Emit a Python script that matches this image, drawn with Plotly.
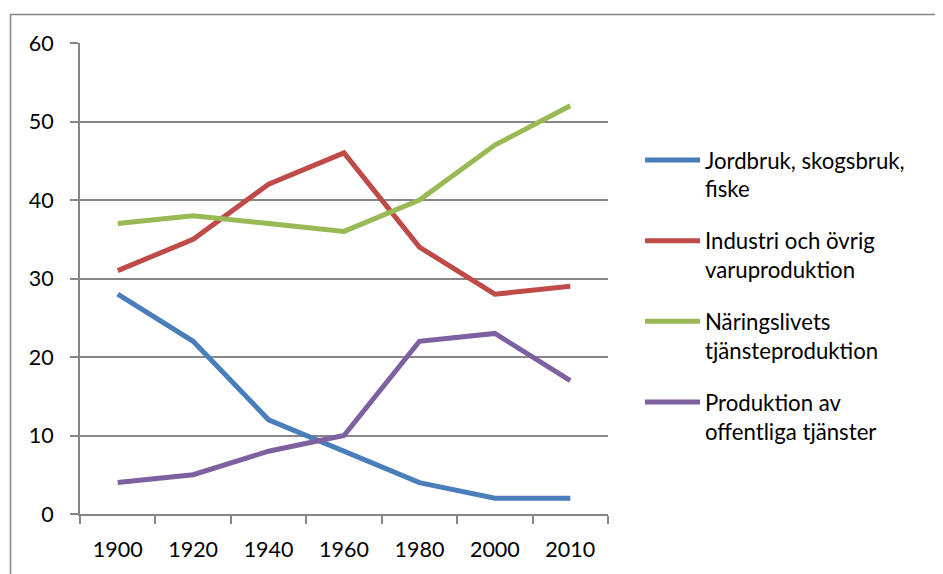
import plotly.graph_objects as go

years = ["1900", "1920", "1940", "1960", "1980", "2000", "2010"]
jordbruk = [28, 22, 12, 8, 4, 2, 2]
industri = [31, 35, 42, 46, 34, 28, 29]
naringsliv = [37, 38, 37, 36, 40, 47, 52]
offentlig = [4, 5, 8, 10, 22, 23, 17]

names = ["Jordbruk, skogsbruk,<br>fiske", "Industri och övrig<br>varuproduktion",
         "Näringslivets<br>tjänsteproduktion", "Produktion av<br>offentliga tjänster"]
colors = ["#4A7EBB", "#BE4B48", "#98B954", "#7D60A0"]
series = [jordbruk, industri, naringsliv, offentlig]

FONT = "Lato"
fig = go.Figure()
for i, (n, c, s) in enumerate(zip(names, colors, series)):
    fig.add_trace(go.Scatter(x=years, y=s, name=n, mode="lines", legendgroup=f"g{i}",
                             line=dict(color=c, width=5)))

OFF = 8  # page body margin
W, H = 943, 574
L, R, T, B = 80 - OFF, 608 - OFF, 43 - OFF, 514 - OFF
fig.update_layout(
    width=W, height=H,
    margin=dict(l=L, r=W - R, t=T, b=H - B, pad=0, autoexpand=False),
    plot_bgcolor="white", paper_bgcolor="white",
    font=dict(family=FONT, size=22, color="#000000"),
    showlegend=True,
    legend=dict(x=(640 - OFF - L) / (R - L), y=(B - (139 - OFF)) / (B - T),
                xanchor="left", yanchor="top",
                valign="top", itemwidth=55, tracegroupgap=20,
                font=dict(family=FONT, size=22.2, color="#000000")),
    xaxis=dict(type="category", tickson="boundaries", ticks="outside", ticklen=8,
               tickcolor="#868686", tickwidth=2, showline=True, linecolor="#868686",
               linewidth=2, showgrid=False, range=[-0.5, 6.5], ticklabelstandoff=15,
               tickfont=dict(size=21.5), automargin=False),
    yaxis=dict(range=[0, 60], dtick=10, ticks="outside", ticklen=8, tickcolor="#868686",
               tickwidth=2, showline=True, linecolor="#868686", linewidth=2,
               showgrid=True, gridcolor="#868686", gridwidth=1.5, zeroline=False,
               ticklabelstandoff=12, tickfont=dict(size=21.5), automargin=False),
)
fig.add_shape(type="rect", xref="paper", yref="paper",
              x0=(10.5 - OFF - L) / (R - L), x1=2.0,
              y0=-0.3, y1=(B - (14.5 - OFF)) / (B - T),
              line=dict(color="#868686", width=1.5), layer="below")
fig.write_html("out.html")
